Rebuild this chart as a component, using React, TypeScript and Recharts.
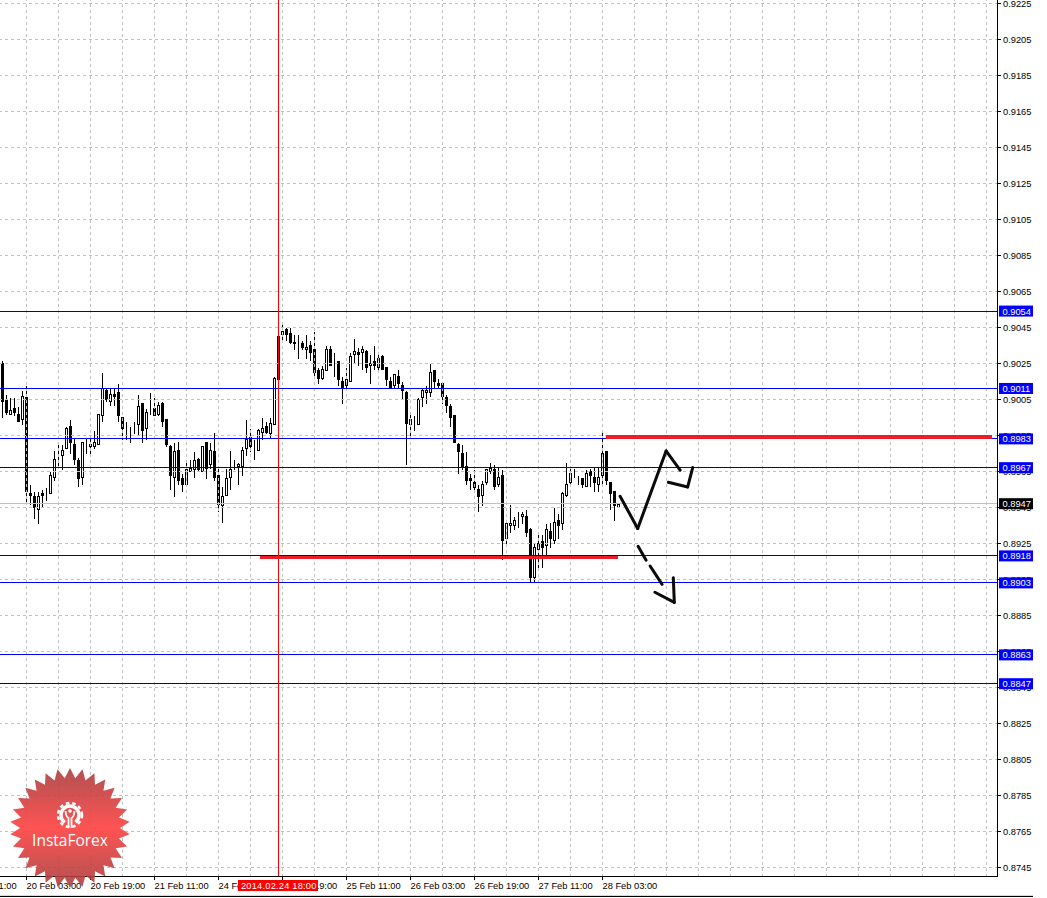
import { ComposedChart, Bar, XAxis, YAxis, ReferenceLine } from 'recharts';

// hourly candles, first one is index 0
const opens = [
  0.9025, 0.9005, 0.8997, 0.9000, 0.8997, 0.8994, 0.9006, 0.8953, 0.8951, 0.8944,
  0.8953, 0.8954, 0.8953, 0.8962, 0.8973, 0.8974, 0.8978, 0.8990, 0.8980, 0.8971,
  0.8962, 0.8980, 0.8979, 0.8979, 0.8980, 0.8996, 0.9010, 0.9004, 0.9008, 0.9009,
  0.8995, 0.8990, 0.8989, 0.8990, 0.8991, 0.9003, 0.8989, 0.8999, 0.9000, 0.8997,
  0.9003, 0.8994, 0.8979, 0.8962, 0.8977, 0.8961, 0.8958, 0.8965, 0.8966, 0.8972,
  0.8965, 0.8981, 0.8969, 0.8976, 0.8963, 0.8946, 0.8952, 0.8962, 0.8966, 0.8968,
  0.8968, 0.8978, 0.8984, 0.8978, 0.8977, 0.8987, 0.8990, 0.8986, 0.8991, 0.9040,
  0.9041, 0.9044, 0.9042, 0.9037, 0.9035, 0.9036, 0.9033, 0.9035, 0.9033, 0.9021,
  0.9017, 0.9021, 0.9033, 0.9025, 0.9026, 0.9015, 0.9013, 0.9015, 0.9030, 0.9031,
  0.9031, 0.9032, 0.9024, 0.9026, 0.9023, 0.9029, 0.9023, 0.9015, 0.9013, 0.9018,
  0.9013, 0.9009, 0.8991, 0.8993, 0.8991, 0.9006, 0.9009, 0.9009, 0.9021, 0.9014,
  0.9014, 0.9006, 0.9001, 0.8996, 0.8980, 0.8975, 0.8968, 0.8961, 0.8959, 0.8955,
  0.8952, 0.8959, 0.8965, 0.8966, 0.8958, 0.8963, 0.8928, 0.8935, 0.8935, 0.8939,
  0.8940, 0.8940, 0.8933, 0.8906, 0.8922, 0.8926, 0.8924, 0.8932, 0.8927, 0.8938,
  0.8936, 0.8952, 0.8959, 0.8963, 0.8962, 0.8961, 0.8957, 0.8965, 0.8962, 0.8958,
  0.8963, 0.8976, 0.8959, 0.8954, 0.8945,
];
const highs = [
  0.9027, 0.9008, 0.9006, 0.9006, 0.9001, 0.9010, 0.9013, 0.8958, 0.8954, 0.8954,
  0.8955, 0.8956, 0.8965, 0.8977, 0.8981, 0.8980, 0.8990, 0.8994, 0.8984, 0.8973,
  0.8981, 0.8984, 0.8984, 0.8988, 0.8997, 0.9020, 0.9012, 0.9011, 0.9012, 0.9014,
  0.8995, 0.8993, 0.8990, 0.8993, 0.9008, 0.9003, 0.9000, 0.9009, 0.9006, 0.9004,
  0.9004, 0.8994, 0.8980, 0.8981, 0.8982, 0.8964, 0.8972, 0.8972, 0.8976, 0.8973,
  0.8979, 0.8981, 0.8981, 0.8987, 0.8967, 0.8957, 0.8967, 0.8977, 0.8972, 0.8970,
  0.8979, 0.8994, 0.8989, 0.8983, 0.8989, 0.8995, 0.8993, 0.8995, 0.9018, 0.9040,
  0.9048, 0.9045, 0.9045, 0.9041, 0.9041, 0.9038, 0.9041, 0.9038, 0.9043, 0.9023,
  0.9024, 0.9035, 0.9035, 0.9031, 0.9027, 0.9018, 0.9023, 0.9031, 0.9039, 0.9034,
  0.9035, 0.9033, 0.9030, 0.9035, 0.9031, 0.9030, 0.9023, 0.9018, 0.9019, 0.9022,
  0.9015, 0.9010, 0.8998, 0.8996, 0.9006, 0.9011, 0.9013, 0.9025, 0.9021, 0.9017,
  0.9015, 0.9008, 0.9003, 0.8997, 0.8981, 0.8980, 0.8976, 0.8964, 0.8966, 0.8958,
  0.8960, 0.8967, 0.8970, 0.8969, 0.8968, 0.8966, 0.8938, 0.8947, 0.8940, 0.8943,
  0.8943, 0.8944, 0.8934, 0.8925, 0.8932, 0.8930, 0.8936, 0.8937, 0.8945, 0.8942,
  0.8954, 0.8970, 0.8967, 0.8967, 0.8963, 0.8962, 0.8966, 0.8967, 0.8968, 0.8968,
  0.8988, 0.8976, 0.8959, 0.8954, 0.8948,
];
const lows = [
  0.8995, 0.8997, 0.8997, 0.8996, 0.8993, 0.8991, 0.8947, 0.8947, 0.8939, 0.8936,
  0.8945, 0.8949, 0.8953, 0.8960, 0.8968, 0.8966, 0.8978, 0.8975, 0.8969, 0.8957,
  0.8958, 0.8975, 0.8975, 0.8978, 0.8980, 0.8993, 0.9004, 0.9002, 0.9002, 0.8993,
  0.8983, 0.8983, 0.8981, 0.8986, 0.8985, 0.8981, 0.8983, 0.8997, 0.8996, 0.8996,
  0.8990, 0.8979, 0.8955, 0.8951, 0.8958, 0.8954, 0.8957, 0.8965, 0.8962, 0.8965,
  0.8965, 0.8961, 0.8967, 0.8960, 0.8943, 0.8937, 0.8952, 0.8955, 0.8966, 0.8958,
  0.8963, 0.8974, 0.8976, 0.8972, 0.8977, 0.8983, 0.8986, 0.8984, 0.8991, 0.9011,
  0.9038, 0.9038, 0.9036, 0.9033, 0.9028, 0.9033, 0.9028, 0.9027, 0.9018, 0.9014,
  0.9016, 0.9021, 0.9024, 0.9018, 0.9013, 0.9003, 0.9011, 0.9015, 0.9025, 0.9024,
  0.9022, 0.9020, 0.9014, 0.9022, 0.9022, 0.9022, 0.9013, 0.9011, 0.9012, 0.9012,
  0.9005, 0.8969, 0.8985, 0.8988, 0.8991, 0.9001, 0.9003, 0.9007, 0.9011, 0.9011,
  0.9003, 0.8998, 0.8990, 0.8981, 0.8964, 0.8966, 0.8958, 0.8955, 0.8954, 0.8943,
  0.8946, 0.8958, 0.8964, 0.8955, 0.8957, 0.8916, 0.8924, 0.8931, 0.8933, 0.8934,
  0.8936, 0.8929, 0.8904, 0.8904, 0.8912, 0.8912, 0.8919, 0.8923, 0.8925, 0.8928,
  0.8933, 0.8951, 0.8957, 0.8962, 0.8958, 0.8956, 0.8957, 0.8957, 0.8954, 0.8954,
  0.8958, 0.8958, 0.8944, 0.8938, 0.8945,
];
const closes = [
  0.9004, 0.8998, 0.8999, 0.8998, 0.8993, 0.9007, 0.8954, 0.8952, 0.8945, 0.8951,
  0.8952, 0.8954, 0.8963, 0.8972, 0.8973, 0.8977, 0.8989, 0.8981, 0.8972, 0.8961,
  0.8981, 0.8980, 0.8980, 0.8981, 0.8997, 0.9011, 0.9005, 0.9008, 0.9007, 0.8996,
  0.8989, 0.8990, 0.8989, 0.8990, 0.9001, 0.8988, 0.8998, 0.8999, 0.8996, 0.9002,
  0.8993, 0.8980, 0.8963, 0.8976, 0.8960, 0.8958, 0.8966, 0.8967, 0.8971, 0.8966,
  0.8979, 0.8967, 0.8977, 0.8962, 0.8947, 0.8951, 0.8961, 0.8966, 0.8966, 0.8969,
  0.8977, 0.8983, 0.8979, 0.8978, 0.8988, 0.8989, 0.8987, 0.8992, 0.9017, 0.9016,
  0.9043, 0.9041, 0.9037, 0.9036, 0.9035, 0.9034, 0.9034, 0.9031, 0.9020, 0.9017,
  0.9022, 0.9033, 0.9024, 0.9025, 0.9016, 0.9012, 0.9016, 0.9029, 0.9032, 0.9030,
  0.9033, 0.9023, 0.9025, 0.9024, 0.9028, 0.9022, 0.9016, 0.9012, 0.9019, 0.9014,
  0.9010, 0.8992, 0.8994, 0.8993, 0.9005, 0.9010, 0.9010, 0.9020, 0.9015, 0.9013,
  0.9007, 0.9002, 0.8995, 0.8981, 0.8976, 0.8968, 0.8960, 0.8960, 0.8956, 0.8951,
  0.8958, 0.8966, 0.8967, 0.8957, 0.8962, 0.8927, 0.8936, 0.8936, 0.8938, 0.8939,
  0.8941, 0.8931, 0.8906, 0.8923, 0.8925, 0.8923, 0.8933, 0.8928, 0.8937, 0.8935,
  0.8953, 0.8958, 0.8964, 0.8963, 0.8962, 0.8958, 0.8964, 0.8963, 0.8959, 0.8962,
  0.8975, 0.8960, 0.8953, 0.8946, 0.8947,
];

const priceTicks = [
  0.9225, 0.9205, 0.9185, 0.9165, 0.9145, 0.9125, 0.9105, 0.9085, 0.9065, 0.9045, 0.9025, 0.9005, 0.8985,
  0.8965, 0.8945, 0.8925, 0.8905, 0.8885, 0.8865, 0.8845, 0.8825, 0.8805, 0.8785, 0.8765, 0.8745,
];
const timeTicks = [-10, 6, 22, 38, 54, 70, 86, 102, 118, 134, 150];
const timeLabels = [
  '19 Feb 11:00', '20 Feb 03:00', '20 Feb 19:00', '21 Feb 11:00', '24 Feb 03:00', '24 Feb 19:00',
  '25 Feb 11:00', '26 Feb 03:00', '26 Feb 19:00', '27 Feb 11:00', '28 Feb 03:00',
];
const gridTimes = [
  6, 14, 22, 30, 38, 46, 54, 62, 70, 78, 86, 94, 102, 110, 118, 126, 134, 142, 150, 158, 166, 174, 182, 190,
  198, 206, 214, 222, 230, 238, 246,
];

const brightLevels = [0.9011, 0.8983, 0.8903, 0.8863];
const darkLevels = [0.9054, 0.8967, 0.8918, 0.8847];
const lastPrice = 0.8947;
const cursorIndex = 69;
const cursorLabel = '2014.02.24 18:00';

// the thick red levels and the hand drawn arrows
const redTop = [{ x: 150.9, y: 0.89839 }, { x: 247.4, y: 0.89839 }];
const redBottom = [{ x: 64.4, y: 0.89169 }, { x: 153.8, y: 0.89169 }];
const upPath = [
  { x: 154.4, y: 0.89511 }, { x: 158.8, y: 0.89332 }, { x: 165.9, y: 0.89763 }, { x: 169.4, y: 0.89656 },
];
const upHook = [{ x: 166.45, y: 0.89589 }, { x: 171.3, y: 0.89563 }, { x: 172.55, y: 0.89671 }];
const downDash1 = [{ x: 158.9, y: 0.89233 }, { x: 160.9, y: 0.89156 }];
const downDash2 = [{ x: 161.9, y: 0.89124 }, { x: 164.9, y: 0.89022 }];
const downHook = [{ x: 167.7, y: 0.89059 }, { x: 167.95, y: 0.88922 }, { x: 163.1, y: 0.88978 }];
const drawnPaths = [upPath, upHook, downDash1, downDash2, downHook];

const candles = opens.map((open, i) => ({
  i,
  open,
  high: highs[i],
  low: lows[i],
  close: closes[i],
  range: [lows[i], highs[i]],
}));

const PRICE_DOMAIN = [0.87399, 0.92268];
const AXIS_FONT = '"Liberation Sans", sans-serif';
const AXIS_SIZE = 9.3;

// Bar gives the high-low box, open and close are placed inside it
const Candle = (props: any) => {
  const { x, y, width, height, payload } = props;
  const cx = Math.floor(x + width / 2) + 0.5;
  const perPrice = height / (payload.high - payload.low || 1);
  const yOf = (p: number) => Math.round(y + (payload.high - p) * perPrice) + 0.5;
  const top = yOf(Math.max(payload.open, payload.close));
  const bottom = yOf(Math.min(payload.open, payload.close));
  return (
    <g shapeRendering="crispEdges">
      <line x1={cx} x2={cx} y1={yOf(payload.high)} y2={yOf(payload.low)} stroke="#000" />
      <rect
        x={cx - 1}
        y={top}
        width={2}
        height={bottom - top}
        fill={payload.close < payload.open ? '#000' : '#fff'}
        stroke="#000"
      />
    </g>
  );
};

const PriceTick = (props: any) => {
  const { x, y, payload } = props;
  return (
    <g>
      <line x1={x} x2={x + 3} y1={y} y2={y} stroke="#000" shapeRendering="crispEdges" />
      <text x={x + 5.5} y={y + 3.5} fontSize={AXIS_SIZE} fontFamily={AXIS_FONT} fill="#000">
        {payload.value.toFixed(4)}
      </text>
    </g>
  );
};

const TimeTick = (props: any) => {
  const { x, y, payload } = props;
  return (
    <g>
      <line x1={x} x2={x} y1={y} y2={y + 3} stroke="#000" shapeRendering="crispEdges" />
      <text x={x} y={y + 12.5} fontSize={AXIS_SIZE} fontFamily={AXIS_FONT} fill="#000">
        {timeLabels[timeTicks.indexOf(payload.value)]}
      </text>
    </g>
  );
};

// tags of the levels, on a second axis so they cover the normal tick labels
const LevelTag = (props: any) => {
  const { y, payload } = props;
  return (
    <g>
      <rect x={999} y={y - 5.5} width={34} height={11} fill={payload.value === lastPrice ? '#000' : '#0000ff'} />
      <text x={1002.5} y={y + 3.5} fontSize={AXIS_SIZE} fontFamily={AXIS_FONT} fill="#fff">
        {payload.value.toFixed(4)}
      </text>
    </g>
  );
};

// InstaForex badge and the cursor time tag, they sit over the axis
const Overlay = () => {
  const spikes = 30;
  const points: string[] = [];
  for (let k = 0; k < spikes * 2; k++) {
    const r = k % 2 === 0 ? 60 : 50;
    const a = (k / (spikes * 2)) * Math.PI * 2;
    points.push(`${70 + r * Math.sin(a)},${828 - r * Math.cos(a)}`);
  }
  return (
    <svg width={1047} height={898} style={{ position: 'absolute', left: 0, top: 0, pointerEvents: 'none' }}>
      <defs>
        <linearGradient id="badgeFill" x1="0" y1="0" x2="0" y2="1">
          <stop offset="0%" stopColor="#a83a3a" stopOpacity={0.88} />
          <stop offset="50%" stopColor="#ff4a4a" stopOpacity={0.95} />
          <stop offset="100%" stopColor="#a83a3a" stopOpacity={0.88} />
        </linearGradient>
      </defs>
      <polygon points={points.join(' ')} fill="url(#badgeFill)" />
      <circle cx={70} cy={815} r={9} fill="none" stroke="#fff" strokeWidth={3.5} strokeDasharray="45 11.5" strokeDashoffset={-19.6} />
      <circle cx={70} cy={815} r={12} fill="none" stroke="#fff" strokeWidth={2.5} strokeDasharray="3.5 3" />
      <path d="M65.5 811 Q66 817 68.5 818 V828 M71.5 828 V818 Q74 817 74.5 811" fill="none" stroke="#fff" strokeWidth={1.8} />
      <circle cx={70} cy={811} r={1.8} fill="#fff" />
      <text x={70} y={846} textAnchor="middle" fontSize={15.5} fontFamily='"Open Sans", sans-serif' fill="#fff">
        InstaForex
      </text>
      <rect x={238} y={880} width={80} height={11} fill="#ff0000" />
      <text x={241} y={889} fontSize={AXIS_SIZE} letterSpacing={0.2} fontFamily={AXIS_FONT} fill="#fff">
        {cursorLabel}
      </text>
    </svg>
  );
};

export default function App() {
  return (
    <div style={{ position: 'absolute', left: 0, top: 0, width: 1047, height: 898, background: '#fff', overflow: 'hidden' }}>
      <ComposedChart
        width={1047}
        height={898}
        data={candles}
        margin={{ top: 0, right: 0, bottom: 0, left: 0 }}
      >
        <XAxis
          dataKey="i"
          type="number"
          domain={[-0.625, 248.75]}
          allowDataOverflow
          ticks={timeTicks}
          interval={0}
          height={21.5}
          tick={<TimeTick />}
          tickLine={false}
          tickSize={0}
          tickMargin={0}
          axisLine={{ stroke: '#000', shapeRendering: 'crispEdges' }}
        />
        <YAxis
          orientation="right"
          type="number"
          domain={PRICE_DOMAIN}
          allowDataOverflow
          ticks={priceTicks}
          interval={0}
          width={48.5}
          tick={<PriceTick />}
          tickLine={false}
          tickSize={0}
          tickMargin={0}
          axisLine={{ stroke: '#000', shapeRendering: 'crispEdges' }}
        />
        <YAxis
          yAxisId="levels"
          orientation="right"
          type="number"
          domain={PRICE_DOMAIN}
          allowDataOverflow
          ticks={[...brightLevels, ...darkLevels, lastPrice]}
          interval={0}
          width={1}
          tick={<LevelTag />}
          tickLine={false}
          axisLine={false}
        />
        {priceTicks.map((p) => (
          <ReferenceLine key={p} y={p} stroke="#c0c0c0" strokeDasharray="3 3" shapeRendering="crispEdges" />
        ))}
        {gridTimes.map((t) => (
          <ReferenceLine key={t} x={t} stroke="#c0c0c0" strokeDasharray="3 3" shapeRendering="crispEdges" />
        ))}
        <Bar dataKey="range" barSize={3} shape={<Candle />} isAnimationActive={false} />
        <ReferenceLine y={lastPrice} stroke="#c0c0c0" shapeRendering="crispEdges" />
        {brightLevels.map((p) => (
          <ReferenceLine key={p} y={p} stroke="#0000ff" shapeRendering="crispEdges" />
        ))}
        {darkLevels.map((p) => (
          <ReferenceLine key={p} y={p} stroke="#0000b4" shapeRendering="crispEdges" />
        ))}
        <ReferenceLine x={cursorIndex} stroke="#ff0000" shapeRendering="crispEdges" />
        <ReferenceLine segment={redTop} stroke="#ee1c25" strokeWidth={4} shapeRendering="crispEdges" />
        <ReferenceLine segment={redBottom} stroke="#ee1c25" strokeWidth={3} shapeRendering="crispEdges" />
        {drawnPaths.flatMap((path, k) =>
          path.slice(1).map((point, n) => (
            <ReferenceLine
              key={`${k}-${n}`}
              segment={[path[n], point]}
              stroke="#0a0a0a"
              strokeWidth={3}
              strokeLinecap="round"
            />
          ))
        )}
      </ComposedChart>
      <Overlay />
      <div style={{ position: 'absolute', left: 0, top: 895, width: 1033, height: 1, background: '#d8d8d8' }} />
      <div style={{ position: 'absolute', left: 0, top: 896, width: 1033, height: 1, background: '#000' }} />
    </div>
  );
}
